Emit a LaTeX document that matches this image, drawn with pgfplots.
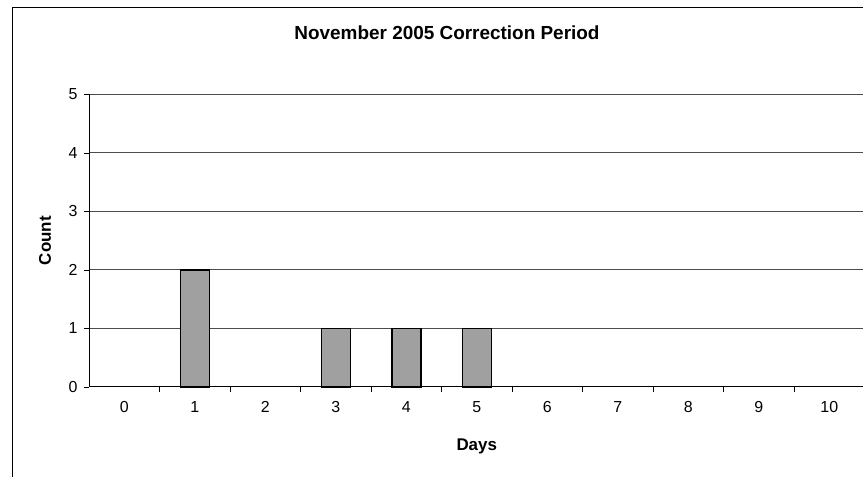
\documentclass[border=0pt]{standalone}
\usepackage{pgfplots}
\pgfplotsset{compat=1.18}
\usepackage{fontspec}
\setmainfont{Liberation Sans}
\definecolor{barfill}{HTML}{A0A0A0}
\begin{document}
\begin{tikzpicture}
\draw[line width=1bp, black] (12bp,469bp) rectangle (900bp,-30bp);
\node[font=\fontsize{19}{22}\selectfont\bfseries] at (447bp,444bp) {November 2005 Correction Period};
\begin{axis}[
  at={(89bp,90bp)}, anchor=south west,
  scale only axis, width=775.5bp, height=292.5bp,
  xmin=-0.5, xmax=10.5, ymin=0, ymax=5,
  axis x line*=bottom, axis y line*=left,
  xtick pos=bottom, ytick pos=left,
  axis line style={black, line width=1bp},
  xtick={0,...,10}, minor x tick num=1,
  major x tick style={draw=none},
  minor x tick style={black, line width=0.8bp},
  ytick={0,...,5}, major y tick style={black, line width=0.8bp},
  tick align=outside, major tick length=5bp, minor tick length=5bp,
  ymajorgrids, grid style={black!70, line width=1bp},
  /pgf/number format/assume math mode=true,
  ticklabel style={font=\fontsize{16}{19}\selectfont},
  xticklabel style={yshift=-6bp},
  yticklabel style={xshift=-3bp},
  xlabel={Days}, ylabel={Count},
  every axis x label/.style={at={([yshift=-59bp]axis description cs:0.5,0)}, anchor=center, font=\fontsize{17}{20}\selectfont\bfseries},
  every axis y label/.style={at={([xshift=-44bp]axis description cs:0,0.5)}, anchor=center, rotate=90, font=\fontsize{17}{20}\selectfont\bfseries},
  clip=false,
]
\addplot[ybar, bar width=29bp, fill=barfill, draw=black, line width=1.5bp,
  y filter/.expression={y==0 ? nan : y}, unbounded coords=discard] coordinates {
  (0,0) (1,2) (2,0) (3,1) (4,1) (5,1) (6,0) (7,0) (8,0) (9,0) (10,0)
};
\end{axis}
\pgfresetboundingbox
\useasboundingbox (0bp,0bp) rectangle (863bp,477bp);
\end{tikzpicture}
\end{document}
